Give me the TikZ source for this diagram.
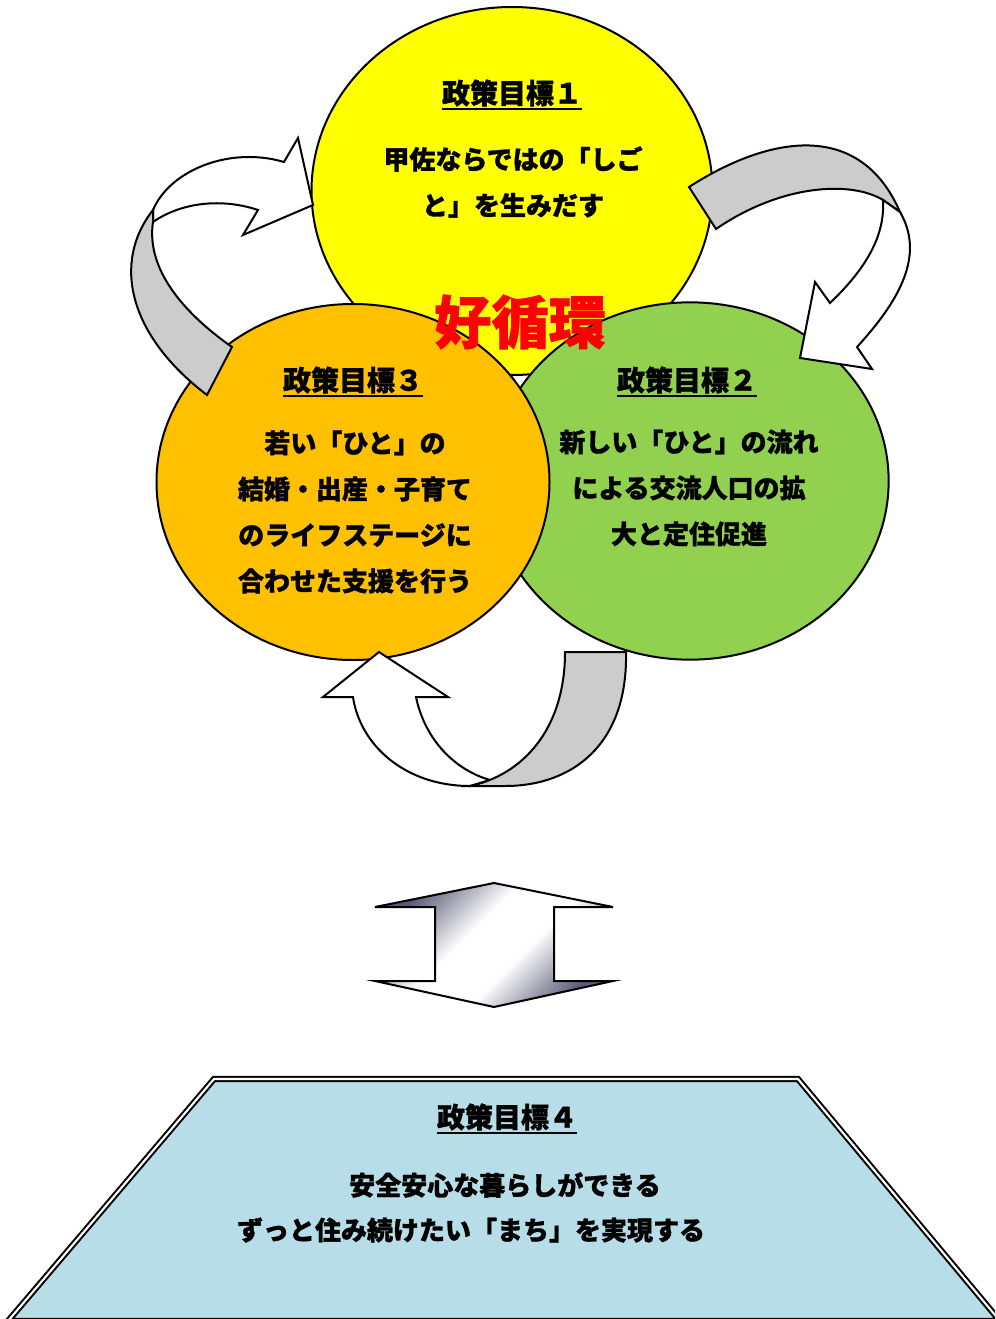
\documentclass[tikz,border=0pt]{standalone}
\usepackage{fontspec}
\newfontfamily\jp{Noto Sans CJK JP}[BoldFeatures={FakeBold=1.2}]
\usetikzlibrary{shapes.geometric}
\definecolor{goalyellow}{HTML}{FFFF00}
\definecolor{goalorange}{HTML}{FFC000}
\definecolor{goalgreen}{HTML}{92D050}
\definecolor{goalblue}{HTML}{B7DDE8}
\definecolor{ribbongray}{HTML}{CCCCCC}
\definecolor{shadedark}{RGB}{90,90,120}
\pgfdeclareverticalshading{swapshade}{100bp}{color(0bp)=(shadedark); color(25bp)=(shadedark); color(43bp)=(white); color(57bp)=(white); color(75bp)=(shadedark); color(100bp)=(shadedark)}

\begin{document}
\begin{tikzpicture}[x=0.75pt,y=-0.75pt,line join=miter,
    goal/.style={ellipse,draw,line width=1.5pt,inner sep=0pt},
    ribbon/.style={draw,line width=1.5pt},
    title/.style={font=\jp\bfseries\fontsize{21}{25}\selectfont,inner sep=0pt},
    body/.style={font=\jp\bfseries\fontsize{19.5}{34.5}\selectfont,align=center,inner sep=0pt},
    underbar/.style={line width=1.8pt}]
        % page area
        \clip (0,0) rectangle (995,1319);

        % draw the three goals
        \node[goal,fill=goalyellow,minimum width=300.75pt,minimum height=276pt] (goalA) at (512,191) {};
        \node[goal,fill=goalgreen,minimum width=298pt,minimum height=268pt] (goalB) at (690,481) {};
        \node[goal,fill=goalorange,minimum width=294.75pt,minimum height=267pt] (goalC) at (353,482) {};

        % the ribbon from goal 3 to goal 1
        \draw[ribbon,fill=white] (153,210) .. controls (170,170) and (230,146) .. (284,162)
              -- (298,138) -- (313,205) -- (243,235) -- (258,210)
              .. controls (222,198) and (182,202) .. (153,222) -- cycle;
        \draw[ribbon,fill=ribbongray] (232,347) .. controls (182,312) and (146,268) .. (153,222)
              -- (153,210) .. controls (112,262) and (128,335) .. (207,395) -- cycle;

        % the ribbon from goal 1 to goal 2
        \draw[ribbon,fill=ribbongray] (689,187) .. controls (770,135) and (860,120) .. (900,212)
              -- (883,200) .. controls (850,180) and (780,185) .. (716,229) -- cycle;
        \draw[ribbon,fill=white] (900,212) .. controls (925,255) and (900,300) .. (857,347)
              -- (872,369) -- (800,358) -- (815,282) -- (830,303)
              .. controls (870,265) and (885,232) .. (883,200) -- cycle;

        % the ribbon from goal 2 to goal 3
        \draw[ribbon,fill=white] (470,786) .. controls (405,786) and (360,745) .. (353,697)
              -- (323,697) -- (379,652) -- (448,697) -- (416,697)
              .. controls (425,740) and (455,770) .. (490,780) -- cycle;
        \draw[ribbon,fill=ribbongray] (565,652) -- (626,652) .. controls (628,745) and (572,786) .. (505,786)
              -- (470,786) .. controls (522,775) and (565,730) .. (565,652) -- cycle;

        % goal texts
        \node[title] (titleA) at (512,93) {政策目標１};
        \node[body] (textA) at (513,182) {甲佐ならではの「しご\\と」を生みだす};
        \node[title] (titleB) at (687,380) {政策目標２};
        \node[body] (textB) at (689,488) {新しい「ひと」の流れ\\による交流人口の拡\\大と定住促進};
        \node[title] (titleC) at (353,380) {政策目標３};
        \node[body] (textC) at (355,512) {若い「ひと」の\\結婚・出産・子育て\\のライフステージに\\合わせた支援を行う};
        \node[font=\jp\bfseries\fontsize{43}{46}\selectfont,text=red,inner sep=0pt] (cycle) at (520,322) {好循環};

        % the two-way arrow
        \draw[line width=1.5pt,shading=swapshade,shading angle=45] (494,883) -- (613,907) -- (554,907) -- (554,981)
              -- (613,981) -- (494,1007) -- (375,981) -- (435,981) -- (435,907) -- (375,907) -- cycle;

        % goal 4
        \draw[fill=goalblue,line width=1.5pt,double=white,double distance=1.6pt] (214,1079) -- (798,1079)
              -- (1000,1321) -- (8,1321) -- cycle;
        \node[title] (titleD) at (507,1117) {政策目標４};
        \node[body] (textD) at (505,1185) {安全安心な暮らしができる};
        \node[body] (textE) at (471,1230) {ずっと住み続けたい「まち」を実現する};

        % underline the titles
        \foreach \t in {titleA,titleB,titleC,titleD}
            \draw[underbar] ([yshift=-1.5pt]\t.south west) -- ([yshift=-1.5pt]\t.south east);
\end{tikzpicture}
\end{document}
